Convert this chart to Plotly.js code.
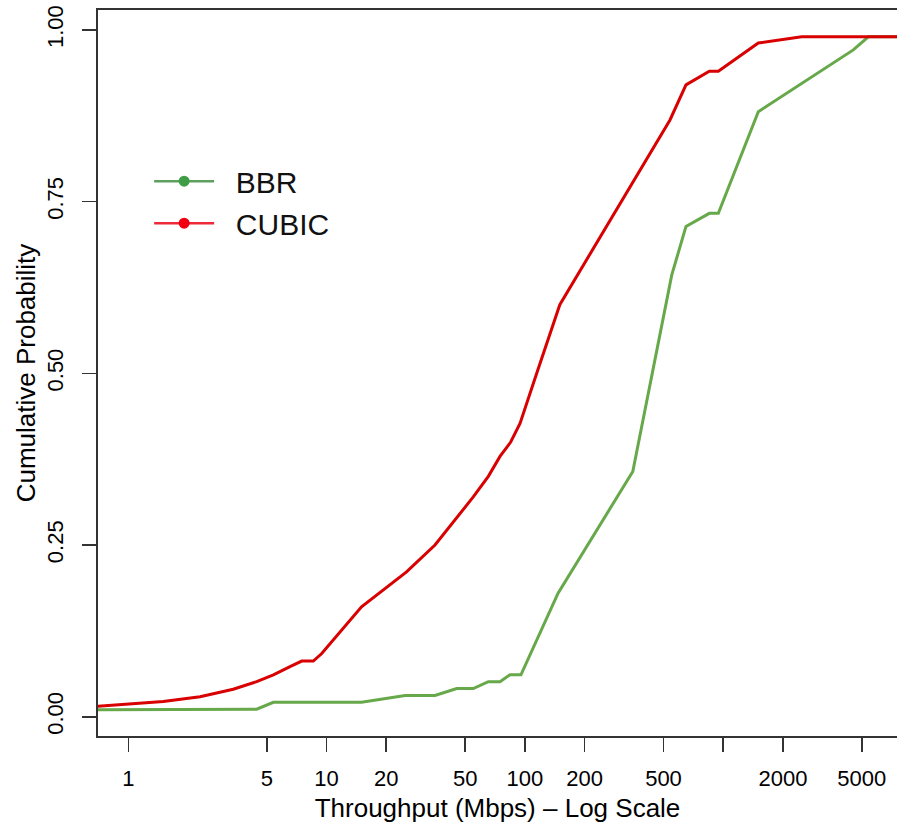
<!DOCTYPE html>
<html>
<head>
<meta charset="utf-8">
<script src="https://cdn.plot.ly/plotly-3.0.1.min.js"></script>
<style>html,body{margin:0;padding:0;background:#fff;overflow:hidden;}</style>
</head>
<body>
<div id="chart" style="width:897px;height:826px;"></div>
<script>
// CUBIC throughput CDF (Mbps, cumulative probability)
const cubicX = [0.7, 1.5, 2.3, 3.38, 4.44, 5.39, 6.54, 7.49, 8.57, 9.45, 15.0, 25.3, 35.2, 54.9, 65.4, 74.9, 84.8, 94.5, 114.7, 150, 539, 649, 851, 945, 1503, 2488, 7600];
const cubicY = [0.015, 0.022, 0.029, 0.040, 0.051, 0.061, 0.073, 0.081, 0.081, 0.092, 0.160, 0.211, 0.250, 0.320, 0.350, 0.379, 0.400, 0.427, 0.500, 0.600, 0.869, 0.920, 0.940, 0.940, 0.981, 0.990, 0.990];
// BBR throughput CDF
const bbrX = [0.7, 4.44, 5.39, 15.0, 24.9, 35.2, 45.3, 54.9, 65.4, 74.9, 84.1, 95.5, 147, 350, 550, 649, 851, 945, 1503, 4530, 5393, 7600];
const bbrY = [0.010, 0.011, 0.021, 0.021, 0.031, 0.031, 0.041, 0.041, 0.051, 0.051, 0.061, 0.061, 0.180, 0.357, 0.643, 0.714, 0.733, 0.733, 0.881, 0.971, 0.990, 0.990];

const xTickVals = [1, 5, 10, 20, 50, 100, 200, 500, 1000, 2000, 5000];
const xTickText = ['1', '5', '10', '20', '50', '100', '200', '500', '', '2000', '5000'];
const yTickVals = [0, 0.25, 0.5, 0.75, 1];
const yTickText = ['0.00', '0.25', '0.50', '0.75', '1.00'];

const seriesNames = ['BBR', 'CUBIC'];
const lineColors = ['#66a84a', '#d80000'];
const legendLineColors = ['#5fa05f', '#ee2a3a'];
const legendMarkerColors = ['#3f9e45', '#f00010'];

const FONT = 'Liberation Sans, Arial, Helvetica, sans-serif';
const PAD = '\u00a0\u00a0';

const traces = [
  {x: bbrX, y: bbrY, mode: 'lines', line: {color: lineColors[0], width: 3}, showlegend: false, hoverinfo: 'skip'},
  {x: cubicX, y: cubicY, mode: 'lines', line: {color: lineColors[1], width: 3}, showlegend: false, hoverinfo: 'skip'},
  {x: [null], y: [null], mode: 'lines+markers', name: PAD + seriesNames[0], line: {color: legendLineColors[0], width: 2.5}, marker: {color: legendMarkerColors[0], size: 11}},
  {x: [null], y: [null], mode: 'lines+markers', name: PAD + seriesNames[1], line: {color: legendLineColors[1], width: 2.5}, marker: {color: legendMarkerColors[1], size: 11}}
];

const layout = {
  width: 897, height: 826,
  margin: {l: 98, r: 0, t: 10, b: 90, pad: 0},
  paper_bgcolor: '#fff', plot_bgcolor: '#fff',
  font: {family: FONT, color: '#000', size: 22},
  showlegend: true,
  legend: {
    x: 0.064, y: 0.80, xanchor: 'left', yanchor: 'top',
    bgcolor: 'rgba(255,255,255,0.9)', borderwidth: 0,
    font: {family: FONT, size: 30, color: '#111'},
    itemwidth: 60, tracegroupgap: 0
  },
  xaxis: {
    type: 'log',
    range: [-0.1528, 3.8764],
    tickmode: 'array', tickvals: xTickVals, ticktext: xTickText,
    ticks: 'outside', ticklen: 14, tickwidth: 1.6, tickcolor: '#333',
    tickfont: {family: FONT, size: 22, color: '#000'},
    ticklabelstandoff: 8,
    showline: true, linecolor: '#333', linewidth: 2, mirror: true,
    showgrid: false, zeroline: false,
    title: {text: 'Throughput (Mbps) \u2013 Log Scale', font: {family: FONT, size: 26, color: '#000'}, standoff: 8}
  },
  yaxis: {
    range: [-0.0281, 1.0291],
    tickmode: 'array', tickvals: yTickVals, ticktext: yTickText,
    tickangle: -90,
    ticks: 'outside', ticklen: 14, tickwidth: 1.6, tickcolor: '#333',
    tickfont: {family: FONT, size: 22, color: '#000'},
    ticklabelstandoff: 10,
    showline: true, linecolor: '#333', linewidth: 2, mirror: false,
    showgrid: false, zeroline: false,
    title: {text: 'Cumulative Probability', font: {family: FONT, size: 26, color: '#000'}, standoff: 0}
  }
};

Plotly.newPlot('chart', traces, layout, {displayModeBar: false, staticPlot: true});
</script>
</body>
</html>
